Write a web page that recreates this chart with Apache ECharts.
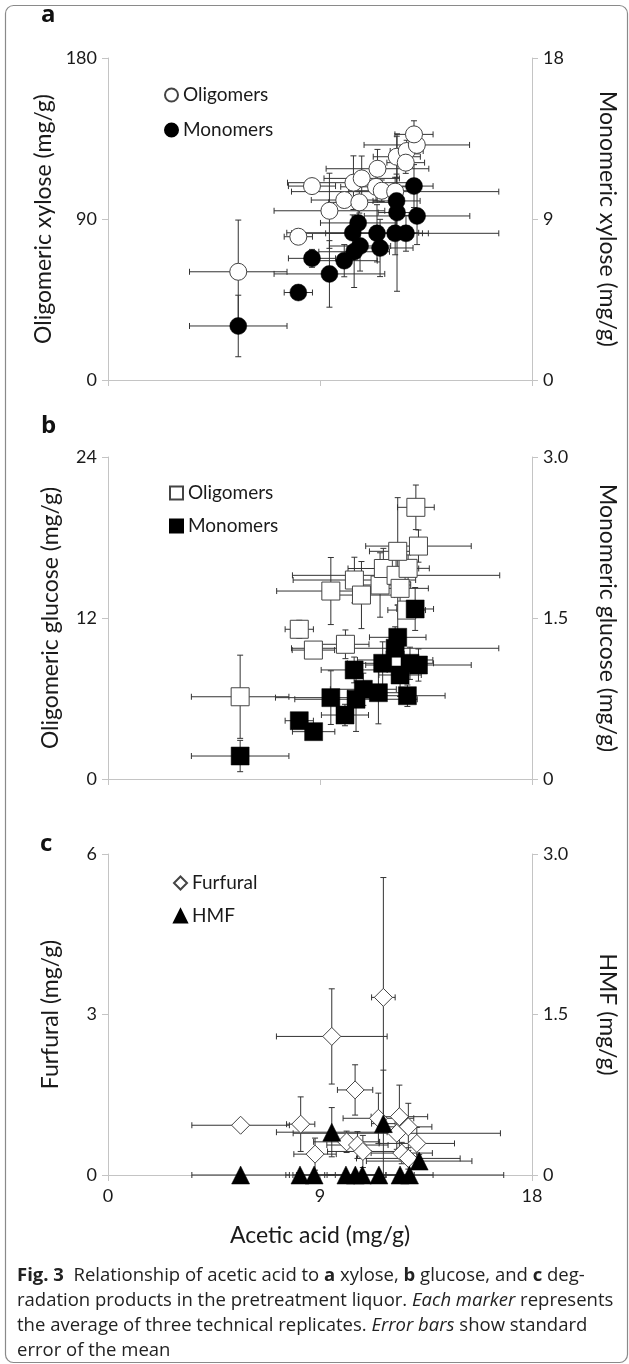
<!DOCTYPE html>
<html>
<head>
<meta charset="utf-8">
<script src="https://cdn.jsdelivr.net/npm/echarts@6/dist/echarts.min.js"></script>
<style>
  html, body { margin: 0; padding: 0; background: #fff; }
  #chart { width: 629px; height: 1364px; }
</style>
</head>
<body>
<div id="chart"></div>
<script>
// acetic acid axis, shared by all three panels
const xTicks = [0, 9, 18]

// panel a: xylose
const xyloseOligoTicks = [0, 90, 180]
const xyloseMonoTicks = [0, 9, 18]
const xylOligoX = [5.53, 8.08, 8.66, 9.40, 10.03, 10.42, 10.77, 10.67, 11.44, 11.38, 11.62, 12.19, 12.26, 12.68, 12.64, 13.11, 12.99]
const xylOligoY = [60.5, 80.1, 108.4, 94.6, 100.6, 110.3, 112.7, 99.3, 118.1, 108.0, 105.8, 105.3, 124.8, 128.0, 121.5, 131.4, 137.3]
const xylOligoXErr = [2.07, 0.6, 1.0, 2.35, 1.4, 2.8, 1.6, 1.3, 2.18, 1.5, 1.4, 4.4, 1.0, 0.7, 0.8, 2.24, 0.81]
const xylOligoYErr = [28.9, 2, 3, 21, 4, 15, 12.5, 6, 10.8, 8, 6, 8, 11.5, 6, 6, 5, 7.6]
const xylMonoX = [5.53, 8.08, 8.66, 9.40, 10.03, 10.62, 10.39, 10.70, 10.45, 11.42, 11.55, 12.19, 12.65, 12.25, 12.27, 13.12, 12.99]
const xylMonoY = [3.02, 4.89, 6.80, 5.93, 6.67, 8.78, 8.23, 7.49, 7.17, 8.20, 7.38, 8.20, 8.20, 10.01, 9.36, 9.17, 10.84]
const xylMonoXErr = [2.07, 0.6, 1.0, 2.35, 1.4, 1.6, 2.8, 1.3, 1.5, 2.18, 1.4, 4.4, 0.7, 1.0, 0.8, 2.24, 0.81]
const xylMonoYErr = [1.72, 0.3, 0.5, 1.86, 0.9, 1.3, 1.0, 1.4, 2.0, 1.6, 1.6, 1.2, 1.0, 1.5, 4.4, 1.6, 1.2]

// panel b: glucose
const glucoseOligoTicks = [0, 12, 24]
const glucoseMonoTicks = [0, 1.5, 3.0]
const gluOligoX = [5.61, 8.12, 8.72, 10.08, 9.46, 10.46, 10.76, 11.55, 11.69, 12.23, 12.40, 12.74, 12.30, 13.18, 13.07, 12.68, 12.19]
const gluOligoY = [6.13, 11.16, 9.61, 10.04, 14.01, 14.83, 13.71, 14.46, 15.69, 15.18, 14.21, 15.70, 16.97, 17.36, 20.25, 12.59, 8.87]
const gluOligoXErr = [2.07, 0.6, 0.9, 1.0, 2.3, 2.6, 1.4, 1.3, 1.5, 4.4, 1.2, 0.9, 1.2, 2.24, 0.78, 0.8, 1.6]
const gluOligoYErr = [3.1, 0.67, 0.5, 1.07, 2.5, 1.7, 2.5, 2.4, 1.5, 1.3, 1.2, 1.0, 4.0, 1.2, 1.66, 0.6, 1.0]
const gluMonoX = [5.61, 8.12, 8.73, 9.46, 10.06, 10.45, 10.53, 10.84, 11.48, 11.66, 12.30, 12.19, 12.40, 12.82, 13.18, 12.71, 13.04]
const gluMonoY = [0.214, 0.543, 0.441, 0.758, 0.596, 1.016, 0.743, 0.836, 0.804, 1.078, 1.32, 1.218, 0.969, 1.078, 1.062, 0.776, 1.584]
const gluMonoXErr = [2.07, 0.6, 0.9, 2.35, 1.0, 1.4, 2.6, 1.4, 1.3, 1.5, 1.2, 4.4, 0.9, 1.0, 2.24, 1.6, 0.78]
const gluMonoYErr = [0.146, 0.03, 0.05, 0.25, 0.1, 0.12, 0.3, 0.15, 0.29, 0.2, 0.3, 0.2, 0.2, 0.15, 0.15, 0.1, 0.2]

// panel c: degradation products
const furfuralTicks = [0, 3, 6]
const hmfTicks = [0, 1.5, 3.0]
const furX = [5.63, 8.18, 8.79, 9.50, 10.13, 10.49, 10.59, 10.82, 11.48, 11.69, 12.37, 12.75, 12.26, 13.11, 12.47, 12.75]
const furY = [0.93, 0.95, 0.39, 2.59, 0.62, 1.59, 0.56, 0.44, 1.06, 3.32, 1.09, 0.90, 0.78, 0.59, 0.41, 0.31]
const furXErr = [2.07, 0.6, 0.9, 2.35, 1.4, 0.75, 1.3, 1.5, 1.5, 0.5, 1.2, 1.0, 4.4, 1.6, 1.3, 2.2]
const furYErr = [0.05, 0.51, 0.3, 0.89, 0.2, 0.47, 0.25, 0.3, 0.47, 2.24, 0.59, 0.44, 0.3, 0.3, 0.2, 0.2]
const hmfX = [5.63, 8.15, 8.75, 9.50, 10.10, 10.50, 10.80, 11.50, 11.69, 12.40, 12.80, 13.21]
const hmfY = [0, 0, 0, 0.40, 0, 0, 0, 0, 0.48, 0, 0, 0.13]
const hmfXErr = [2.07, 0.6, 0.9, 2.35, 1.4, 1.3, 1.5, 1.5, 0.5, 4.4, 1.0, 2.24]
const hmfYErr = [0.005, 0.005, 0.005, 0.23, 0.005, 0.005, 0.005, 0.005, 0.5, 0.01, 0.01, 0.06]

const FONT = 'Lato'
const AXIS_GRAY = '#c4c4c4'
const TEXT = '#1a1a1a'

const rows = (xs, ys, ex, ey) => xs.map((x, i) => [x, ys[i], ex[i], ey[i]])
const range = t => ({ min: t[0], max: t[t.length - 1], interval: t[1] - t[0] })
const oneDecimal = v => (v === 0 ? '0' : v.toFixed(1))

const grids = [
  { left: 108, width: 424, top: 58, height: 322 },
  { left: 108, width: 424, top: 457, height: 322 },
  { left: 108, width: 424, top: 854, height: 321 },
]

function xAxis(i) {
  const last = i === 2
  return {
    type: 'value', gridIndex: i, ...range(xTicks),
    axisLine: { show: true, onZero: false, lineStyle: { color: AXIS_GRAY, width: 1 } },
    axisTick: { show: true, inside: false, length: 6, lineStyle: { color: AXIS_GRAY } },
    axisLabel: { show: last, margin: 12, color: TEXT, fontFamily: FONT, fontSize: 18 },
    splitLine: { show: false },
    name: last ? 'Acetic acid (mg/g)' : '',
    nameLocation: 'middle', nameGap: 49,
    nameTextStyle: { color: TEXT, fontFamily: FONT, fontSize: 23 },
  }
}

function yAxis(i, side, ticks, name, fmt) {
  const right = side === 'right'
  return {
    type: 'value', gridIndex: i, position: side, ...range(ticks),
    axisLine: { show: true, onZero: false, lineStyle: { color: AXIS_GRAY, width: 1 } },
    axisTick: { show: true, inside: false, length: 6, lineStyle: { color: AXIS_GRAY } },
    axisLabel: { margin: 11, color: TEXT, fontFamily: FONT, fontSize: 18, formatter: fmt },
    splitLine: { show: false },
    name, nameLocation: 'middle',
    nameRotate: right ? -90 : 90,
    nameGap: right ? 64 : 46,
    nameTextStyle: { color: TEXT, fontFamily: FONT, fontSize: 23 },
  }
}

function renderErr(params, api) {
  const x = api.value(0), y = api.value(1), ex = api.value(2), ey = api.value(3)
  const l = api.coord([x - ex, y]), r = api.coord([x + ex, y])
  const t = api.coord([x, y + ey]), b = api.coord([x, y - ey])
  const cap = 3
  const seg = (x1, y1, x2, y2) => ({
    type: 'line', shape: { x1, y1, x2, y2 }, style: { stroke: '#333', lineWidth: 1 },
  })
  return {
    type: 'group',
    children: [
      seg(l[0], l[1], r[0], r[1]),
      seg(l[0], l[1] - cap, l[0], l[1] + cap),
      seg(r[0], r[1] - cap, r[0], r[1] + cap),
      seg(t[0], t[1], b[0], b[1]),
      seg(t[0] - cap, t[1], t[0] + cap, t[1]),
      seg(b[0] - cap, b[1], b[0] + cap, b[1]),
    ],
  }
}

function errorSeries(xi, yi, data) {
  return {
    type: 'custom', xAxisIndex: xi, yAxisIndex: yi, data, z: 2, silent: true, clip: false,
    encode: { x: 0, y: 1 }, renderItem: renderErr,
  }
}

function markerSeries(name, xi, yi, data, symbol, size, filled, z) {
  return {
    name, type: 'scatter', xAxisIndex: xi, yAxisIndex: yi, data, z, clip: false,
    encode: { x: 0, y: 1 }, symbol, symbolSize: size,
    itemStyle: filled
      ? { color: '#000', borderColor: '#000', borderWidth: 0.5, opacity: 1 }
      : { color: '#fff', borderColor: '#444', borderWidth: 1, opacity: 1 },
    emphasis: { disabled: true },
  }
}

const panels = [
  [
    { name: 'Oligomers|a', y: 0, data: rows(xylOligoX, xylOligoY, xylOligoXErr, xylOligoYErr), symbol: 'circle', size: 17, filled: false },
    { name: 'Monomers|a', y: 1, data: rows(xylMonoX, xylMonoY, xylMonoXErr, xylMonoYErr), symbol: 'circle', size: 17, filled: true },
  ],
  [
    { name: 'Oligomers|b', y: 2, data: rows(gluOligoX, gluOligoY, gluOligoXErr, gluOligoYErr), symbol: 'rect', size: 18, filled: false },
    { name: 'Monomers|b', y: 3, data: rows(gluMonoX, gluMonoY, gluMonoXErr, gluMonoYErr), symbol: 'rect', size: 18, filled: true },
  ],
  [
    { name: 'Furfural', y: 4, data: rows(furX, furY, furXErr, furYErr), symbol: 'diamond', size: 18, filled: false },
    { name: 'HMF', y: 5, data: rows(hmfX, hmfY, hmfXErr, hmfYErr), symbol: 'triangle', size: 18, filled: true },
  ],
]

const series = []
panels.forEach((p, i) => {
  p.forEach(s => series.push(errorSeries(i, s.y, s.data)))
  p.forEach((s, k) => series.push(markerSeries(s.name, i, s.y, s.data, s.symbol, s.size, s.filled, 3 + k)))
})

function legend(left, top, gap, items) {
  return {
    left, top, orient: 'vertical', padding: 0, itemGap: gap,
    itemWidth: 13, itemHeight: 13, selectedMode: false,
    data: items,
    formatter: n => n.split('|')[0],
    textStyle: { color: TEXT, fontFamily: FONT, fontSize: 19, lineHeight: 20 },
  }
}

const panelLabel = (txt, x, y) => ({
  type: 'text', left: x, top: y, z: 10,
  style: { text: txt, fontFamily: 'Open Sans', fontWeight: 'bold', fontSize: 24, fill: '#111' },
})

const captionStyle = { fontFamily: 'Open Sans', fontSize: 18.5, fill: '#222' }
const caption = {
  type: 'text', left: 17, top: 1263, z: 10,
  style: {
    ...captionStyle, lineHeight: 25,
    text: '{b|Fig. 3}  Relationship of acetic acid to {b|a} xylose, {b|b} glucose, and {b|c} deg-\n' +
      'radation products in the pretreatment liquor. {i|Each marker} represents\n' +
      'the average of three technical replicates. {i|Error bars} show standard\n' +
      'error of the mean',
    rich: {
      b: { ...captionStyle, fontWeight: 'bold', lineHeight: 25 },
      i: { ...captionStyle, fontStyle: 'italic', lineHeight: 25 },
    },
  },
}

const chart = echarts.init(document.getElementById('chart'))
chart.setOption({
  animation: false,
  backgroundColor: '#fff',
  grid: grids,
  xAxis: [0, 1, 2].map(xAxis),
  yAxis: [
    yAxis(0, 'left', xyloseOligoTicks, 'Oligomeric xylose (mg/g)'),
    yAxis(0, 'right', xyloseMonoTicks, 'Monomeric xylose (mg/g)'),
    yAxis(1, 'left', glucoseOligoTicks, 'Oligomeric glucose (mg/g)'),
    yAxis(1, 'right', glucoseMonoTicks, 'Monomeric glucose (mg/g)', oneDecimal),
    yAxis(2, 'left', furfuralTicks, 'Furfural (mg/g)'),
    yAxis(2, 'right', hmfTicks, 'HMF (mg/g)', oneDecimal),
  ],
  legend: [
    legend(164, 85, 15, [{ name: 'Oligomers|a', icon: 'circle' }, { name: 'Monomers|a', icon: 'circle' }]),
    legend(169, 483, 13, [{ name: 'Oligomers|b', icon: 'rect' }, { name: 'Monomers|b', icon: 'rect' }]),
    legend(173, 873, 13, [{ name: 'Furfural', icon: 'diamond' }, { name: 'HMF', icon: 'triangle' }]),
  ],
  graphic: [
    {
      type: 'rect', left: 3, top: 3, z: 0, silent: true,
      shape: { width: 622, height: 1357, r: 8 },
      style: { fill: 'none', stroke: '#8a8a8a', lineWidth: 1.2 },
    },
    panelLabel('a', 41, 3),
    panelLabel('b', 41, 414),
    panelLabel('c', 40, 832),
    caption,
  ],
  series,
})
</script>
</body>
</html>
